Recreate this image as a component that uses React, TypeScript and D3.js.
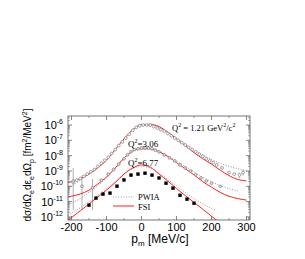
import React from "react";
import * as d3 from "d3";

// theory curves (p_m in MeV/c, cross section in fm^2/MeV^2)
const pmCurve = [-210, -200, -175, -150, -125, -100, -75, -50, -25, 0, 25, 50, 75, 100, 125, 150, 175, 200, 225, 250, 275, 300];
const fsi121 = [1.78e-10, 2.0e-10, 3.16e-10, 6.3e-10, 1.58e-9, 5.0e-9, 2.5e-8, 1.26e-7, 5.0e-7, 1.07e-6, 1.12e-6, 7.9e-7, 3.5e-7, 1.26e-7, 4.5e-8, 1.58e-8, 6.3e-9, 2.8e-9, 1.12e-9, 5.0e-10, 2.8e-10, 2.24e-10];
const pwia121 = [7.9e-11, 1.0e-10, 2.5e-10, 6.3e-10, 1.78e-9, 5.6e-9, 2.5e-8, 1.12e-7, 4.5e-7, 1.0e-6, 1.0e-6, 7.1e-7, 3.5e-7, 1.41e-7, 5.6e-8, 2.5e-8, 1.12e-8, 5.6e-9, 3.16e-9, 2.0e-9, 1.41e-9, 1.0e-9];
const fsi306 = [2.0e-11, 2.24e-11, 3.16e-11, 5.6e-11, 1.41e-10, 4.0e-10, 1.58e-9, 7.1e-9, 2.0e-8, 2.8e-8, 2.8e-8, 1.78e-8, 8.9e-9, 3.5e-9, 1.41e-9, 5.6e-10, 2.0e-10, 8.9e-11, 4.0e-11, 2.24e-11, 1.58e-11, 1.26e-11];
const pwia306 = [6.3e-12, 7.9e-12, 1.58e-11, 4.0e-11, 1.12e-10, 3.5e-10, 1.41e-9, 6.3e-9, 2.0e-8, 3.16e-8, 3.16e-8, 2.0e-8, 1.0e-8, 4.5e-9, 2.0e-9, 8.9e-10, 4.0e-10, 2.0e-10, 1.12e-10, 7.1e-11, 5.0e-11];
const fsi677 = [5.6e-13, 8.9e-13, 2.5e-12, 7.1e-12, 2.0e-11, 5.6e-11, 1.78e-10, 6.3e-10, 1.58e-9, 2.5e-9, 1.78e-9, 6.3e-10, 2.24e-10, 7.1e-11, 2.5e-11, 8.9e-12, 3.16e-12, 1.12e-12, 4.0e-13];
const pmPwia677 = [-210, -200, -175, -150, -125, -100, -75, -50, -25, 0, 25, 50, 75, 100, 125, 150, 175, 200, 210];
const pwia677 = [1.26e-12, 1.78e-12, 4.0e-12, 1.0e-11, 2.5e-11, 7.1e-11, 2.0e-10, 6.3e-10, 1.41e-9, 2.0e-9, 1.58e-9, 7.1e-10, 2.8e-10, 1.0e-10, 4.0e-11, 1.58e-11, 7.1e-12, 3.5e-12, 2.8e-12];

// data, Q^2 = 1.21 (open grey circles)
const pm121 = [-195, -185, -175, -165, -155, -145, -135, -125, -115, -105, -95, -85, -75, -65, -55, -45, -35, -25, -15, -5, 5, 15, 25, 35, 45, 55, 65, 75, 85, 95, 105, 115, 125, 135, 145, 155, 165, 175, 185, 195, 205, 215, 230, 250, 265, 280, 290];
const xs121 = [1.78e-10, 2.5e-10, 3.2e-10, 4.5e-10, 6.3e-10, 8.9e-10, 1.26e-9, 2.0e-9, 3.2e-9, 5.0e-9, 7.9e-9, 1.41e-8, 2.5e-8, 4.5e-8, 7.9e-8, 1.41e-7, 2.5e-7, 4.5e-7, 7.1e-7, 8.9e-7, 1.0e-6, 1.0e-6, 1.0e-6, 7.9e-7, 6.3e-7, 5.0e-7, 4.0e-7, 2.8e-7, 2.0e-7, 1.41e-7, 1.0e-7, 7.1e-8, 5.0e-8, 3.5e-8, 2.5e-8, 1.78e-8, 1.26e-8, 8.9e-9, 6.3e-9, 4.5e-9, 3.5e-9, 2.5e-9, 1.58e-9, 7.9e-10, 6.3e-10, 5.6e-10, 7.9e-10];

// data, Q^2 = 3.06 (grey circles)
const pm306 = [-195, -170, -140, -115, -95, -80, -65, -50, -40, -30, -20, -10, 0, 10, 20, 30, 40, 50, 65, 80, 95, 110, 125, 140, 155, 170, 185, 200, 225];
const xs306 = [2.24e-10, 1.0e-10, 7.9e-11, 2.5e-10, 6.3e-10, 1.26e-9, 2.8e-9, 6.3e-9, 1.12e-8, 1.78e-8, 2.5e-8, 2.8e-8, 3.2e-8, 3.2e-8, 3.2e-8, 2.8e-8, 2.24e-8, 1.78e-8, 1.12e-8, 7.1e-9, 4.5e-9, 2.5e-9, 1.58e-9, 1.0e-9, 5.6e-10, 3.5e-10, 2.24e-10, 1.58e-10, 1.0e-10];

// error bars that are big enough to see
const errPm = [-195, -170, -140, 280, 290];
const errHi = [1.6e-9, 5.0e-10, 3.0e-10, 8.0e-10, 1.2e-9];
const errLo = [2.8e-12, 2.8e-12, 3.0e-12, 3.5e-10, 5.0e-10];

// data, Q^2 = 6.77 (black squares)
const pm677 = [-150, -130, -110, -90, -70, -50, -30, -10, 10, 30, 50, 70, 90, 110, 130, 150];
const xs677 = [5.9e-12, 1.7e-11, 3.1e-11, 3.6e-11, 1.02e-10, 2.6e-10, 5.4e-10, 6.3e-10, 7.2e-10, 5.4e-10, 3.5e-10, 1.6e-10, 7.6e-11, 2.6e-11, 1.45e-11, 7.9e-12];

const xTicks = [-200, -100, 0, 100, 200, 300];
const xMinor = [-150, -50, 50, 150, 250];
const yExps = [-6, -7, -8, -9, -10, -11, -12];

const W = 305;
const H = 259;
const box = { left: 68, right: 250, top: 116, bottom: 220 };
const RED = "#ff2020";
const GREY = "#8a8a8a";
const SANS = "'Liberation Sans', Arial, sans-serif";
const SERIF = "'Liberation Serif', 'Times New Roman', serif";

export default function App() {
  const x = d3.scaleLinear().domain([-210, 310]).range([box.left, box.right]);
  const y = d3.scaleLog().domain([Math.pow(10, -12.2), Math.pow(10, -5.41)]).range([box.bottom, box.top]);

  const line = (pm: number[], v: number[]) =>
    d3.line<number>()
      .x((_, i) => x(pm[i]))
      .y((d) => y(d))
      .curve(d3.curveMonotoneX)(v) || "";

  const yMinor = y.ticks().filter((t) => {
    const e = Math.log10(t);
    return Math.abs(e - Math.round(e)) > 1e-6;
  });

  return (
    <svg width={W} height={H} style={{ position: "absolute", left: 0, top: 0, background: "#fff" }}>
      <defs>
        <clipPath id="plot">
          <rect x={box.left} y={box.top} width={box.right - box.left} height={box.bottom - box.top} />
        </clipPath>
      </defs>

      <g clipPath="url(#plot)">
        {/* error bars */}
        {errPm.map((p, i) => (
          <line key={"e" + i} x1={x(p)} x2={x(p)} y1={y(errHi[i])} y2={y(errLo[i])} stroke="#9a9a9a" strokeWidth={0.8} />
        ))}
        {/* PWIA */}
        <path d={line(pmCurve, pwia121)} fill="none" stroke="#999" strokeWidth={1} strokeDasharray="1,1.6" />
        <path d={line(pmCurve, pwia306)} fill="none" stroke="#999" strokeWidth={1} strokeDasharray="1,1.6" />
        <path d={line(pmPwia677, pwia677)} fill="none" stroke="#999" strokeWidth={1} strokeDasharray="1,1.6" />
        {/* FSI */}
        <path d={line(pmCurve, fsi121)} fill="none" stroke={RED} strokeWidth={1} />
        <path d={line(pmCurve, fsi306)} fill="none" stroke={RED} strokeWidth={1} />
        <path d={line(pmCurve, fsi677)} fill="none" stroke={RED} strokeWidth={1} />
        {/* data */}
        {pm121.map((p, i) => (
          <circle key={"a" + i} cx={x(p)} cy={y(xs121[i])} r={1.4} fill="#fff" stroke={GREY} strokeWidth={0.8} />
        ))}
        {pm306.map((p, i) => (
          <circle key={"b" + i} cx={x(p)} cy={y(xs306[i])} r={1.4} fill="#ddd" stroke={GREY} strokeWidth={0.8} />
        ))}
        {pm677.map((p, i) => (
          <rect key={"c" + i} x={x(p) - 1.7} y={y(xs677[i]) - 1.7} width={3.4} height={3.4} fill="#000" />
        ))}
      </g>

      {/* frame + ticks */}
      <rect x={box.left} y={box.top} width={box.right - box.left} height={box.bottom - box.top} fill="none" stroke="#555" strokeWidth={0.8} />
      {xTicks.map((t) => (
        <g key={"xt" + t} stroke="#555" strokeWidth={0.7}>
          <line x1={x(t)} x2={x(t)} y1={box.bottom} y2={box.bottom - 4} />
          <line x1={x(t)} x2={x(t)} y1={box.top} y2={box.top + 4} />
        </g>
      ))}
      {xMinor.map((t) => (
        <g key={"xm" + t} stroke="#555" strokeWidth={0.6}>
          <line x1={x(t)} x2={x(t)} y1={box.bottom} y2={box.bottom - 2} />
          <line x1={x(t)} x2={x(t)} y1={box.top} y2={box.top + 2} />
        </g>
      ))}
      {yExps.map((e) => (
        <g key={"yt" + e} stroke="#555" strokeWidth={0.7}>
          <line x1={box.left} x2={box.left + 4} y1={y(Math.pow(10, e))} y2={y(Math.pow(10, e))} />
          <line x1={box.right} x2={box.right - 4} y1={y(Math.pow(10, e))} y2={y(Math.pow(10, e))} />
        </g>
      ))}
      {yMinor.map((t, i) => (
        <g key={"ym" + i} stroke="#555" strokeWidth={0.5}>
          <line x1={box.left} x2={box.left + 2} y1={y(t)} y2={y(t)} />
          <line x1={box.right} x2={box.right - 2} y1={y(t)} y2={y(t)} />
        </g>
      ))}

      {/* tick labels */}
      {xTicks.map((t) => (
        <text key={"xl" + t} x={x(t)} y={box.bottom + 11} textAnchor="middle" fontFamily={SANS} fontSize={11}>
          {t}
        </text>
      ))}
      {yExps.map((e) => (
        <text key={"yl" + e} x={box.left - 5} y={y(Math.pow(10, e)) + 4} textAnchor="end" fontFamily={SANS} fontSize={11}>
          10<tspan dy={-5} fontSize={7}>{e}</tspan>
        </text>
      ))}

      {/* axis titles */}
      <text x={160} y={243} textAnchor="middle" fontFamily={SANS} fontSize={12}>
        p<tspan dy={3} fontSize={8}>m</tspan><tspan dy={-3}> [MeV/c]</tspan>
      </text>
      <text transform="translate(31,165) rotate(-90)" textAnchor="middle" fontFamily={SANS} fontSize={10}>
        dσ/dΩ<tspan dy={3} fontSize={7}>e</tspan>
        <tspan dy={-3}>dε</tspan><tspan dy={3} fontSize={7}>e</tspan>
        <tspan dy={-3}>dΩ</tspan><tspan dy={3} fontSize={7}>p</tspan>
        <tspan dy={-3}> [fm</tspan><tspan dy={-4} fontSize={7}>2</tspan>
        <tspan dy={4}>/MeV</tspan><tspan dy={-4} fontSize={7}>2</tspan>
        <tspan dy={4}>]</tspan>
      </text>

      {/* annotations */}
      <text x={172} y={131} fontFamily={SERIF} fontSize={8.5}>
        Q<tspan dy={-4} fontSize={6}>2</tspan><tspan dy={4}> = 1.21 GeV</tspan><tspan dy={-4} fontSize={6}>2</tspan><tspan dy={4}>/c</tspan><tspan dy={-4} fontSize={6}>2</tspan>
      </text>
      <text x={128} y={147} fontFamily={SERIF} fontSize={9}>
        Q<tspan dy={-4} fontSize={6}>2</tspan><tspan dy={4}>=3.06</tspan>
      </text>
      <text x={128} y={166} fontFamily={SERIF} fontSize={9}>
        Q<tspan dy={-4} fontSize={6}>2</tspan><tspan dy={4}>=6.77</tspan>
      </text>

      {/* legend */}
      <line x1={113} x2={134} y1={197} y2={197} stroke="#999" strokeWidth={1} strokeDasharray="1,1.6" />
      <text x={138} y={200} fontFamily={SERIF} fontSize={8.5}>PWIA</text>
      <line x1={113} x2={134} y1={206} y2={206} stroke={RED} strokeWidth={1} />
      <text x={138} y={209.5} fontFamily={SERIF} fontSize={8.5}>FSI</text>
    </svg>
  );
}
